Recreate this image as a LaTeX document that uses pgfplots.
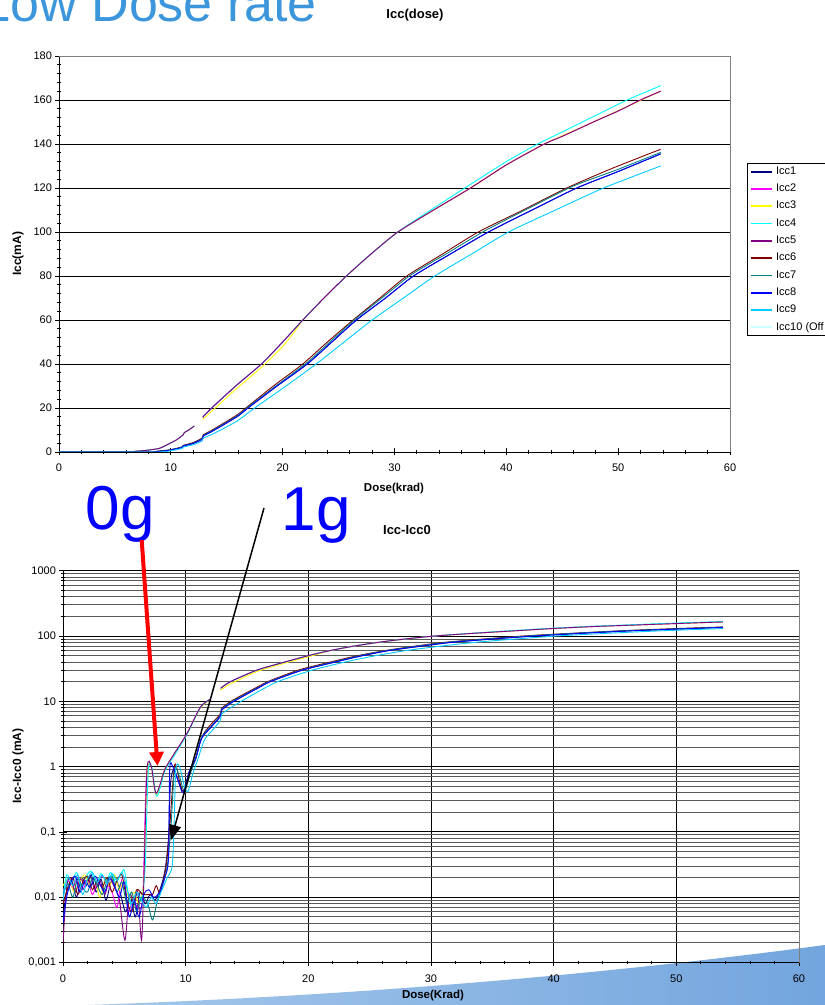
\documentclass[border=0pt]{standalone}
\usepackage{fontspec}
\setmainfont{Liberation Sans}
\usepackage{pgfplots}
\usepackage{pgfplotstable}
\pgfplotsset{compat=1.18}
\usetikzlibrary{arrows.meta}

\definecolor{icc1}{HTML}{000080}
\definecolor{icc2}{HTML}{FF00FF}
\definecolor{icc3}{HTML}{FFFF00}
\definecolor{icc4}{HTML}{00FFFF}
\definecolor{icc5}{HTML}{800080}
\definecolor{icc6}{HTML}{800000}
\definecolor{icc7}{HTML}{008080}
\definecolor{icc8}{HTML}{0000FF}
\definecolor{icc9}{HTML}{00CCFF}
\definecolor{icc10}{HTML}{CCFFFF}
\definecolor{titleblue}{RGB}{60,150,220}
\definecolor{swooshA}{RGB}{165,200,235}
\definecolor{swooshB}{RGB}{115,165,222}

% Icc(dose), linear chart
\pgfplotstableread{
x y
0 0
6.5 0
6.8 0.3
7.5 0.6
8.2 1.0
9.0 1.7
9.9 3.9
10.5 5.5
11.1 7.8
11.2 8.8
11.6 10.0
12.1 11.8
12.5 nan
12.85 15.8
13.65 20
15.8 30
18.1 40
20 50
21.8 60
23.7 70
25.7 80
27.9 90
30.3 100
33.5 110
36.8 120
40 130.5
43.4 140
45 143.5
48 150.5
50 155
52 160
53.8 164
}\topFive

\pgfplotstableread{
x y
0 0
6.5 0
6.8 0.3
7.5 0.6
8.2 1.0
9.0 1.7
9.9 3.9
10.5 5.5
11.1 7.8
11.2 8.8
11.6 10.0
12.1 11.8
12.5 nan
12.85 14.8
13.65 18.5
15.8 28.5
18.1 38.5
20 48
21.1 55
21.8 60
23.7 70
25.7 80
27.9 90
30.3 100
33.5 110
36.8 120
40 130.5
43.4 140
48 150.5
53.8 164
}\topThree

\pgfplotstableread{
x y
0 0
6.5 0
6.8 0.3
7.5 0.6
8.2 1.0
9.0 1.7
9.9 3.9
10.5 5.5
11.1 7.8
11.2 8.8
11.6 10.0
12.1 11.8
12.5 nan
12.85 15.8
13.65 20
15.8 30
18.1 40
20 50
21.8 60
23.7 70
25.7 80
27.9 90
30.3 100
33.4 110.5
36.6 121
40 132
42.8 140
45 145.5
48 153
50.8 160
53.8 166.5
}\topFour

\pgfplotstableread{
x y
0 0
8.5 0
8.7 0.2
9.9 0.8
11.0 2.1
11.1 2.7
12.0 3.9
12.8 5.8
12.9 7.3
13.8 9.7
15.9 16
16.9 20
19.5 30
22.2 40
24.4 50
26.6 60
29.2 70
31.7 80
35 90
38.4 100
42.3 110
46.3 120
50 127.5
53.8 135.5
}\topEight

\pgfplotstableread{
x y
0 0
8.5 0
8.7 0.3
9.9 1.0
11.0 2.3
11.1 3.0
12.0 4.3
12.8 6.3
12.9 7.8
13.8 10.3
15.9 16.8
16.9 20.8
19.3 30.5
21.8 40
24 50
26.3 60
28.7 70
31.1 80
34.3 90
37.5 100
41.5 110
45.4 120
49.5 129
53.8 137.6
}\topSix

\pgfplotstableread{
x y
0 0
8.5 0
8.7 0.2
9.9 0.9
11.0 2.2
11.1 2.8
12.0 4.0
12.8 6.0
12.9 7.5
13.8 10
15.9 16.3
16.9 20.4
19.5 30.4
22.1 40.3
24.3 50.4
26.5 60.4
29.0 70.5
31.5 80.6
34.8 90.6
38.1 100.6
42 110.8
46 120.9
50 128.5
53.8 136.2
}\topSeven

\pgfplotstableread{
x y
0 0
8.8 0
9.9 0.5
11.0 1.6
11.1 2.2
12.0 3.3
12.8 5.0
12.9 6.3
13.8 8.3
15.9 14
17.5 20
20.3 30
23.0 40
25.5 50
28.0 60
30.8 70
33.6 80
36.9 90
40.2 100
44.4 110
48.7 120
53.8 130
}\topNine

% Icc-Icc0, low-dose part (log chart)
\pgfplotstableread{
x y
0 0.005
0.3 0.012
0.7 0.018
1.1 0.010
1.5 0.020
1.9 0.015
2.3 0.022
2.7 0.012
3.1 0.019
3.5 0.009
3.9 0.017
4.3 0.020
4.7 0.011
5.1 0.006
5.5 0.010
5.9 0.005
6.3 0.012
6.7 0.008
7.1 0.011
7.5 0.009
7.9 0.013
8.3 0.025
8.6 0.08
8.75 0.5
9.0 0.9
9.4 0.6
9.8 0.42
10.3 0.85
10.8 1.3
11.3 2.7
12.0 3.9
12.8 5.8
12.9 7.3
}\lowOne

\pgfplotstableread{
x y
0 0.012
0.4 0.018
0.8 0.014
1.2 0.020
1.6 0.013
2.0 0.018
2.4 0.011
2.8 0.017
3.2 0.021
3.6 0.016
4.0 0.012
4.4 0.007
4.7 0.016
5.0 0.020
5.3 0.006
5.7 0.009
6.1 0.007
6.5 0.010
6.8 0.7
7.2 1.0
7.6 0.38
8.3 0.9
9.0 1.5
10.1 3.2
11.2 8.1
12.0 10.7
}\lowTwo

\pgfplotstableread{
x y
0 0.015
0.5 0.020
0.9 0.012
1.4 0.018
1.8 0.022
2.2 0.014
2.6 0.020
3.0 0.010
3.4 0.018
3.8 0.015
4.2 0.022
4.6 0.013
5.0 0.018
5.4 0.009
5.8 0.012
6.2 0.008
6.6 0.02
6.85 0.8
7.2 1.0
7.6 0.37
8.3 0.9
9.0 1.5
10.1 3.1
11.2 7.9
12.0 10.5
}\lowThree

\pgfplotstableread{
x y
0 0.010
0.3 0.022
0.7 0.017
1.1 0.024
1.5 0.015
1.9 0.021
2.3 0.025
2.7 0.016
3.1 0.023
3.5 0.018
3.9 0.024
4.3 0.017
4.7 0.022
5.0 0.026
5.3 0.012
5.6 0.007
6.0 0.011
6.4 0.009
6.7 0.03
6.95 0.85
7.25 0.95
7.65 0.35
8.3 0.85
9.0 1.4
10.1 3.1
11.2 8.0
12.0 10.8
}\lowFour

\pgfplotstableread{
x y
0 0.002
0.3 0.014
0.6 0.020
1.0 0.012
1.4 0.019
1.8 0.016
2.2 0.021
2.6 0.013
3.0 0.018
3.4 0.011
3.8 0.019
4.2 0.014
4.6 0.009
5.05 0.0022
5.4 0.011
5.8 0.008
6.1 0.012
6.4 0.0022
6.6 0.02
6.85 0.9
7.2 1.0
7.6 0.39
8.3 0.9
9.0 1.5
10.1 3.2
11.2 8.1
12.0 10.7
}\lowFive

\pgfplotstableread{
x y
0 0.008
0.4 0.014
0.8 0.020
1.2 0.011
1.6 0.017
2.0 0.021
2.4 0.013
2.8 0.018
3.2 0.014
3.6 0.020
4.0 0.012
4.4 0.018
4.8 0.022
5.2 0.009
5.6 0.006
6.0 0.013
6.5 0.011
7.0 0.011
7.3 0.011
7.6 0.015
7.9 0.012
8.4 0.029
8.7 0.12
9.1 1.05
9.5 0.6
9.8 0.42
10.3 0.8
10.8 1.3
11.3 2.8
12.0 4.3
12.8 6.3
12.9 7.8
}\lowSix

\pgfplotstableread{
x y
0 0.011
0.4 0.016
0.8 0.010
1.2 0.019
1.6 0.014
2.0 0.012
2.4 0.020
2.8 0.015
3.2 0.011
3.6 0.018
4.0 0.021
4.4 0.012
4.8 0.017
5.2 0.008
5.6 0.012
6.0 0.006
6.4 0.010
6.9 0.008
7.3 0.0045
7.7 0.009
8.1 0.015
8.5 0.03
8.8 0.12
9.1 0.9
9.5 0.7
9.9 0.42
10.4 0.8
10.8 1.3
11.3 2.8
12.0 4.0
12.8 6.0
12.9 7.5
}\lowSeven

\pgfplotstableread{
x y
0 0.004
0.3 0.010
0.6 0.016
1.0 0.021
1.4 0.012
1.8 0.018
2.2 0.014
2.6 0.021
3.0 0.016
3.4 0.012
3.8 0.020
4.2 0.015
4.6 0.010
5.0 0.017
5.4 0.005
5.8 0.009
6.2 0.005
6.6 0.011
7.0 0.013
7.4 0.010
7.9 0.012
8.3 0.02
8.6 0.04
8.7 0.9
8.95 1.0
9.4 0.6
9.8 0.4
10.3 0.85
10.8 1.3
11.3 2.7
12.0 3.9
12.8 5.8
12.9 7.3
}\lowEight

\pgfplotstableread{
x y
0 0.009
0.4 0.020
0.8 0.015
1.2 0.022
1.6 0.011
2.0 0.019
2.4 0.024
2.8 0.017
3.2 0.022
3.6 0.016
4.0 0.023
4.4 0.018
4.8 0.024
5.2 0.014
5.6 0.008
6.0 0.012
6.4 0.009
6.8 0.007
7.2 0.010
7.6 0.008
8.0 0.012
8.5 0.02
8.9 0.03
9.05 0.12
9.2 0.9
9.5 1.0
9.9 0.5
10.2 0.42
10.6 0.8
11.0 1.3
11.5 2.5
12.0 3.3
12.8 5.0
12.9 6.3
}\lowNine

\pgfplotsset{
  chartbase/.style={
    scale only axis,
    clip mode=individual,
    axis x line*=bottom, axis y line*=left,
    axis line style={black, line width=0.8pt},
    tick style={black, line width=0.8pt},
    tick align=center,
    major tick length=7pt, minor tick length=4pt,
    tick label style={font=\fontsize{11}{13}\selectfont},
    xticklabel style={yshift=-5pt},
    /pgf/number format/assume math mode=true,
    every axis plot/.append style={line width=0.9pt, mark=none},
  },
}

\begin{document}
\begin{tikzpicture}
\path[use as bounding box] (0pt,0pt) rectangle (825pt,1005pt);
\begin{scope}
\clip (0pt,0pt) rectangle (825pt,1005pt);
\shade[left color=swooshA, right color=swooshB]
  (88pt,0pt) .. controls (350pt,9pt) and (600pt,30pt) .. (825pt,60pt) -- (825pt,0pt) -- cycle;
\node[anchor=base west, inner sep=0pt, text=titleblue, font=\fontsize{52}{56}\selectfont]
  at (-18.5pt,983.3pt) {Low Dose rate};

\begin{axis}[chartbase,
  at={(59pt,553pt)}, anchor=south west,
  width=671pt, height=396pt,
  xmin=0, xmax=60, ymin=0, ymax=180,
  xtick={0,10,...,60}, ytick={0,20,...,180},
  minor x tick num=4, minor y tick num=4,
  ymajorgrids, major grid style={black, line width=0.9pt},
  unbounded coords=jump,
  legend cell align=left,
  legend image code/.code={\draw[#1, line width=1.8pt] (0pt,0pt) -- (21pt,0pt);},
  legend style={at={(1.0253,0.7298)}, anchor=north west, draw=black, fill=white,
    line width=0.8pt, font=\fontsize{11}{13}\selectfont,
    inner xsep=3pt, inner ysep=3pt, row sep=6.8pt, column sep=3pt,
    nodes={inner sep=0pt, text height=8pt, text depth=2.5pt}},
]
\addplot[icc1, smooth, tension=0.4] table {\topEight}; \addlegendentry{Icc1}
\addplot[icc2, smooth, tension=0.4] table {\topFive}; \addlegendentry{Icc2}
\addplot[icc3, smooth, tension=0.4] table {\topThree}; \addlegendentry{Icc3}
\addplot[icc4, smooth, tension=0.4] table {\topFour}; \addlegendentry{Icc4}
\addplot[icc5, smooth, tension=0.4] table {\topFive}; \addlegendentry{Icc5}
\addplot[icc6, smooth, tension=0.4] table {\topSix}; \addlegendentry{Icc6}
\addplot[icc7, smooth, tension=0.4] table {\topSeven}; \addlegendentry{Icc7}
\addplot[icc8, smooth, tension=0.4] table {\topEight}; \addlegendentry{Icc8}
\addplot[icc9, smooth, tension=0.4] table {\topNine}; \addlegendentry{Icc9}
\addlegendimage{icc10} \addlegendentry{Icc10 (Off\hphantom{set)})}
\draw[gray, line width=0.8pt] (rel axis cs:0,1) -- (rel axis cs:1,1) -- (rel axis cs:1,0);
\end{axis}

\begin{axis}[chartbase,
  at={(63pt,42.5pt)}, anchor=south west,
  width=736pt, height=391.8pt,
  xmin=0, xmax=60, ymode=log, ymin=0.001, ymax=1000,
  xtick={0,10,...,60}, minor x tick num=4,
  ytick={0.001,0.01,0.1,1,10,100,1000},
  yticklabels={{0,001},{0,01},{0,1},1,10,100,1000},
  minor ytick={0.002,0.003,0.004,0.005,0.006,0.007,0.008,0.009,
    0.02,0.03,0.04,0.05,0.06,0.07,0.08,0.09,
    0.2,0.3,0.4,0.5,0.6,0.7,0.8,0.9,
    2,3,4,5,6,7,8,9,20,30,40,50,60,70,80,90,
    200,300,400,500,600,700,800,900},
  xmajorgrids, ymajorgrids, yminorgrids,
  major grid style={black, line width=0.9pt},
  minor grid style={black!65, line width=0.8pt},
]
\addplot[icc1, smooth] table {\lowOne};
\addplot[icc1, smooth, tension=0.4, restrict x to domain=12.85:60] table {\topEight};
\addplot[icc2, smooth] table {\lowTwo};
\addplot[icc2, smooth, tension=0.4, restrict x to domain=12.85:60] table {\topFive};
\addplot[icc3, smooth] table {\lowThree};
\addplot[icc3, smooth, tension=0.4, restrict x to domain=12.85:60] table {\topThree};
\addplot[icc4, smooth] table {\lowFour};
\addplot[icc4, smooth, tension=0.4, restrict x to domain=12.85:60] table {\topFour};
\addplot[icc5, smooth] table {\lowFive};
\addplot[icc5, smooth, tension=0.4, restrict x to domain=12.85:60] table {\topFive};
\addplot[icc6, smooth] table {\lowSix};
\addplot[icc6, smooth, tension=0.4, restrict x to domain=12.85:60] table {\topSix};
\addplot[icc7, smooth] table {\lowSeven};
\addplot[icc7, smooth, tension=0.4, restrict x to domain=12.85:60] table {\topSeven};
\addplot[icc8, smooth] table {\lowEight};
\addplot[icc8, smooth, tension=0.4, restrict x to domain=12.85:60] table {\topEight};
\addplot[icc9, smooth] table {\lowNine};
\addplot[icc9, smooth, tension=0.4, restrict x to domain=12.85:60] table {\topNine};
\draw[gray, line width=0.8pt] (rel axis cs:1,0) -- (rel axis cs:1,1);
\end{axis}

\begin{scope}[every node/.style={font=\bfseries\fontsize{11.5}{13}\selectfont, inner sep=0pt}]
\node[anchor=base, font=\bfseries\fontsize{13}{15}\selectfont] at (415pt,986pt) {Icc(dose)};
\node[anchor=base] at (394pt,513pt) {Dose(krad)};
\node[anchor=base, font=\bfseries\fontsize{13}{15}\selectfont] at (407pt,470pt) {Icc-Icc0};
\node[anchor=base] at (433pt,6pt) {Dose(Krad)};
\node[rotate=90, font=\bfseries\fontsize{12}{14}\selectfont] at (18pt,751pt) {Icc(mA)};
\node[rotate=90, font=\bfseries\fontsize{12}{14}\selectfont] at (18pt,239pt) {Icc-Icc0 (mA)};
\end{scope}

\node[anchor=base west, inner sep=0pt, text=blue, font=\fontsize{62}{64}\selectfont]
  at (85.4pt,475pt) {0g};
\node[anchor=base west, inner sep=0pt, text=blue, font=\fontsize{62}{64}\selectfont]
  at (281.5pt,474pt) {1g};
\draw[red, line width=4pt, -{Triangle[width=14pt,length=14pt]}] (141.7pt,465pt) -- (157.5pt,239pt);
\draw[black, line width=1.5pt, -{Triangle[width=12pt,length=15pt]}] (264pt,497pt) -- (171pt,165pt);
\end{scope}
\end{tikzpicture}
\end{document}
